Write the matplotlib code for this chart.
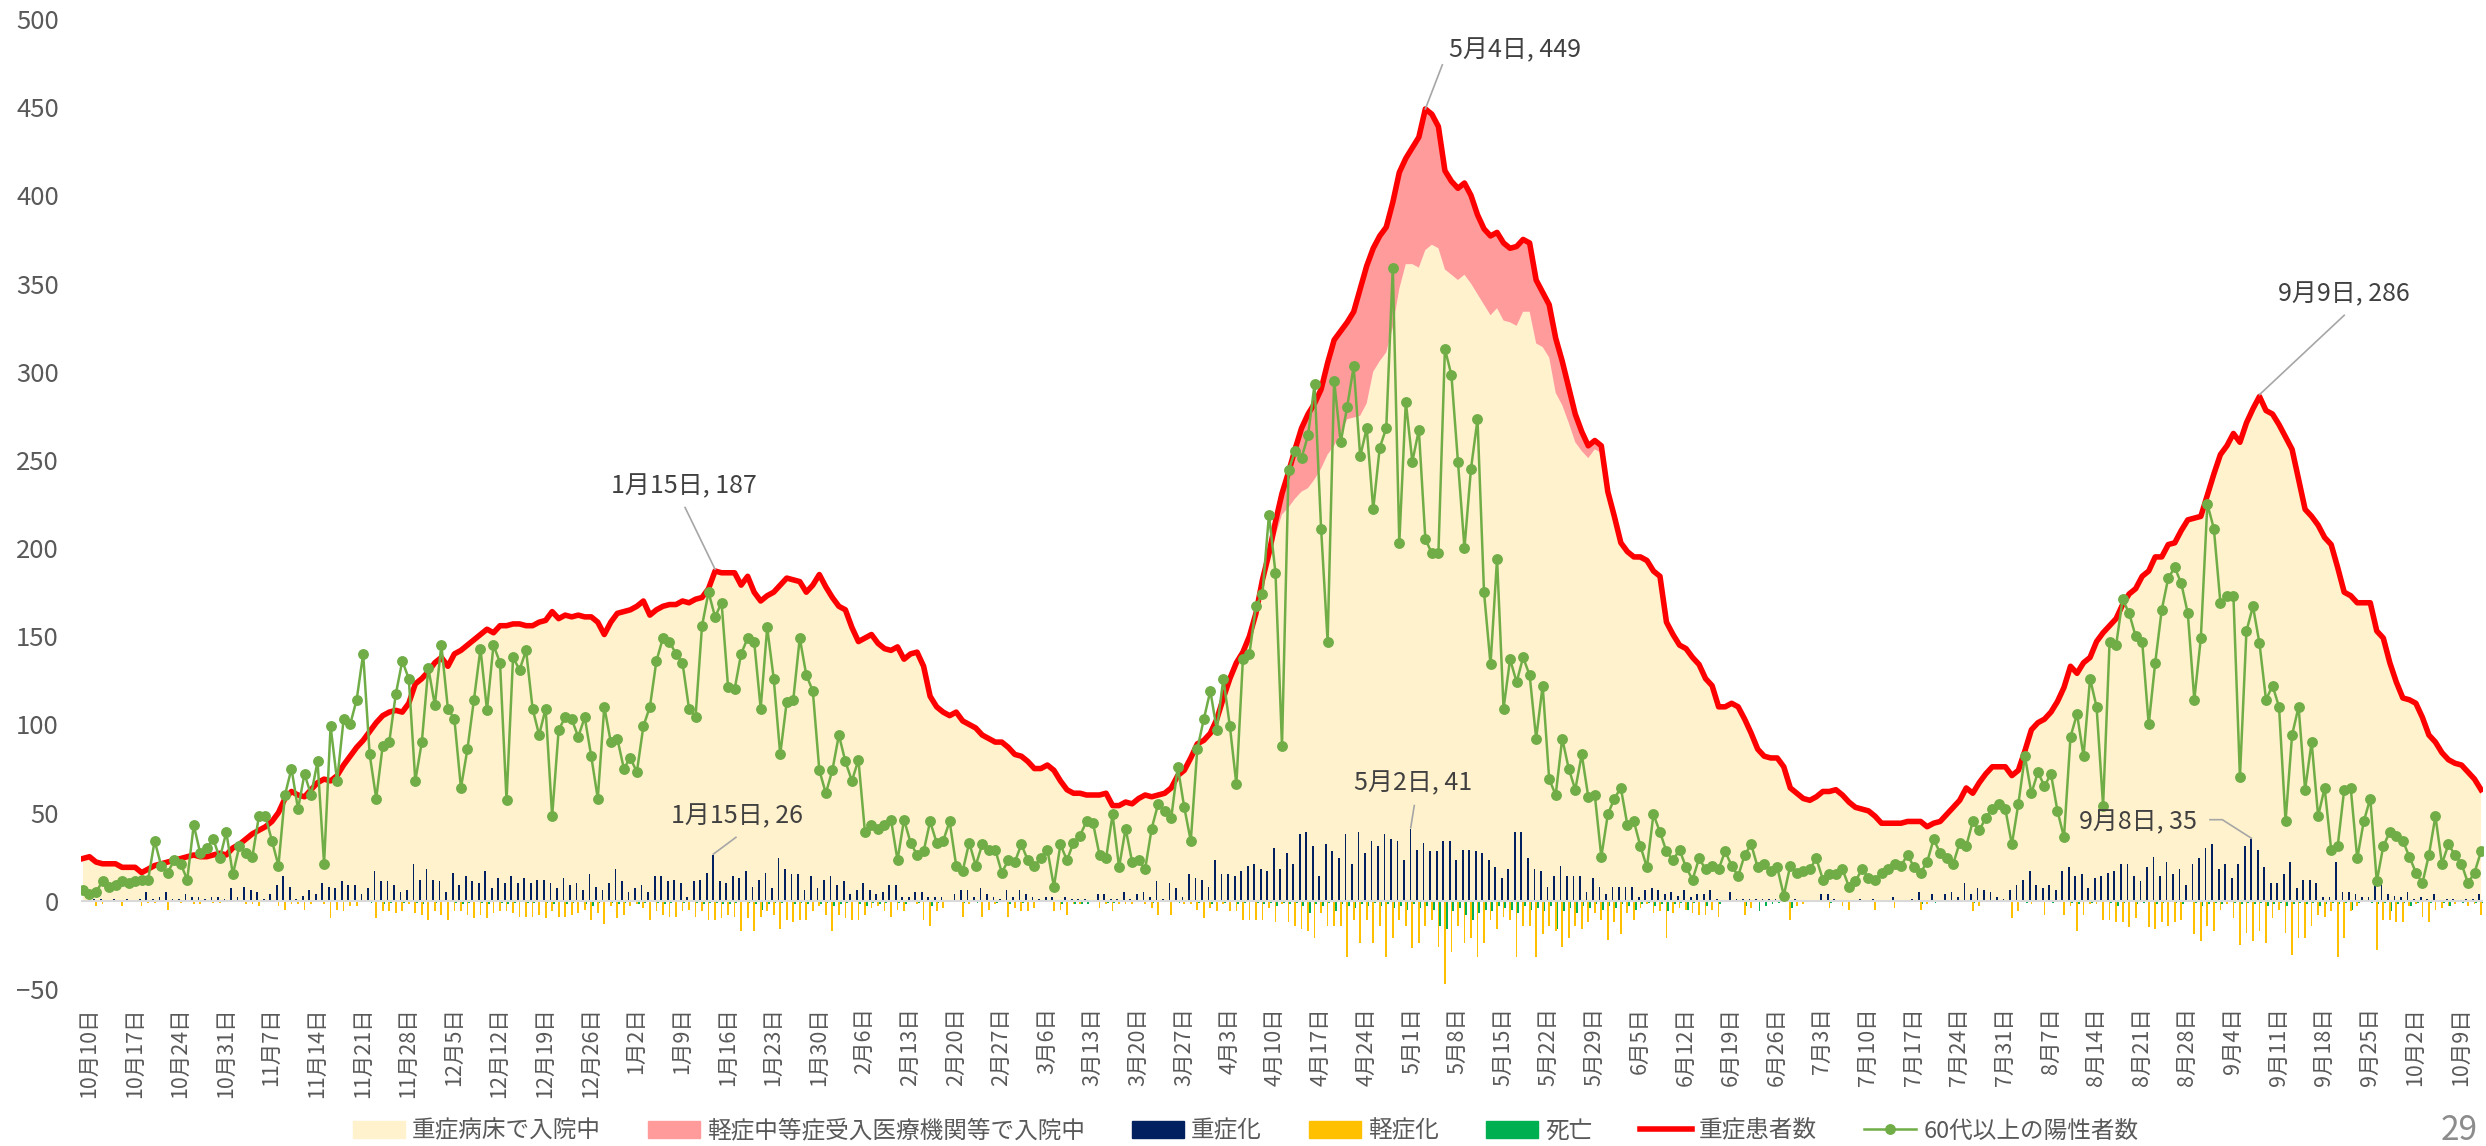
import numpy as np
import matplotlib
matplotlib.use("Agg")
import matplotlib.pyplot as plt
from matplotlib.patches import Patch
from matplotlib.lines import Line2D
from matplotlib.transforms import ScaledTranslation

plt.rcParams["font.family"] = ["Noto Sans CJK JP", "DejaVu Sans"]

# daily values, 10/10 -> 10/13 of the following year
severe_total = [
    24, 25, 22, 21, 21, 21, 19, 19, 19, 16, 18, 20, 21, 22, 23, 24, 25, 26, 25, 25,
    26, 27, 26, 30, 32, 35, 38, 40, 42, 45, 50, 58, 62, 60, 59, 63, 67, 69, 68, 71,
    77, 82, 87, 91, 96, 101, 105, 107, 108, 107, 112, 123, 126, 130, 135, 138, 133, 140, 142, 145,
    148, 151,
    154, 152, 156, 156, 157, 157, 156, 156, 158, 159, 164, 160, 162, 161, 162, 161, 161, 158, 151, 158,
    163, 164, 165, 167, 170, 162, 165, 167, 168, 168, 170, 169, 171, 172, 177, 187, 186, 186, 186, 179,
    184, 175, 170, 173, 175, 179, 183, 182, 181, 175, 179, 185, 178, 172, 167, 165, 155,
    147, 149, 151, 146, 143, 142, 144, 137, 140, 141, 133, 116, 110, 107, 105, 107, 102, 100, 98, 94,
    92, 90, 90, 87, 83, 82, 79, 75, 75, 77, 74, 68, 63, 61, 61, 60, 60, 60, 61, 54,
    54, 56, 55, 58, 60, 59, 60, 61, 64, 71, 74, 81, 89, 91, 95, 103, 115, 126, 135, 141,
    150, 163,
    182, 197, 215, 231, 243, 256, 268, 276, 282, 290, 305, 318, 323, 328, 334, 347, 360, 370, 377, 382,
    396, 413, 421, 427, 433, 449, 446, 439, 414, 408, 404, 407, 400, 389, 381, 377, 379, 373, 370, 371,
    375, 373, 352, 345, 338, 319, 306, 291, 276, 266, 258, 261, 258, 232, 218, 203, 198, 195, 195, 193,
    187,
    184, 158, 151, 145, 143, 138, 134, 126, 122, 110, 110, 112, 110, 103, 95, 86, 82, 81, 81, 76,
    64, 61, 58, 57, 59, 62, 62, 63, 60, 56, 53, 52, 51, 48, 44, 44, 44, 44, 45, 45,
    45, 42, 44, 45, 49, 53, 57, 64, 61, 67, 72, 76, 76, 76, 71, 74, 85, 97, 101, 103,
    107,
    113, 121, 133, 129, 135, 138, 147, 152, 156, 160, 168, 174, 177, 184, 187, 195, 195, 202, 203, 210,
    216, 217, 218, 230, 242, 253, 258, 265, 260, 271, 279, 286, 278, 276, 270, 263, 256, 239, 222, 218,
    213, 206, 202, 189, 175, 173, 169, 169, 169, 153, 149, 135, 124, 115, 114, 112, 104, 94, 90, 84,
    80, 78, 77, 73, 69, 63,
]

# 軽症中等症受入医療機関等で入院中 (only from 4/9 to 6/8)
mild_hosp_start = 181
mild_hosp = [
    2, 5, 8, 12, 20, 28, 36, 42, 43, 45, 52, 60, 58, 55, 60, 72, 78, 70, 71, 71,
    71, 66, 60, 66, 74, 80, 74, 69, 56, 53, 52, 52, 50, 45, 43, 45, 43, 44, 42, 45,
    41, 39, 36, 31, 30, 31, 25, 20, 16, 11, 7, 5, 4, 3, 2, 1, 0, 1, 2, 2,
    1,
]

over60 = [
    6, 4, 5, 11, 8, 9, 11, 10, 11, 12, 12, 34, 20, 16, 23, 21, 12, 43, 27, 30,
    35, 24, 39, 15, 31, 27, 25, 48, 48, 34, 20, 60, 75, 52, 72, 60, 79, 21, 99, 68,
    103, 100, 114, 140, 83, 58, 88, 90, 117, 136, 126, 68, 90, 132, 111, 145, 109, 103, 64, 86,
    114, 143,
    108, 145, 135, 57, 138, 131, 142, 109, 94, 109, 48, 97, 104, 103, 93, 104, 82, 58, 110, 90,
    92, 75, 81, 73, 99, 110, 136, 149, 147, 140, 135, 109, 104, 156, 175, 161, 169, 121, 120, 140,
    149, 147, 109, 155, 126, 83, 113, 114, 149, 128, 119, 74, 61, 74, 94, 79, 68, 80, 39, 43,
    41,
    43, 46, 23, 46, 33, 26, 28, 45, 33, 34, 45, 20, 17, 33, 20, 32, 29, 29, 16, 23,
    22, 32, 23, 20, 24, 29, 8, 32, 23, 33, 37, 45, 44, 26, 24, 49, 19, 41, 22, 23,
    18, 41, 55, 51, 47, 76, 53, 34, 86, 103, 119, 97, 126, 99, 66, 137, 140, 167, 174, 219,
    186, 88,
    244, 255, 251, 264, 293, 211, 147, 295, 260, 280, 303, 252, 268, 222, 257, 268, 359, 203, 283, 249,
    267, 205, 197, 197, 313, 298, 249, 200, 245, 273, 175, 134, 194, 109, 137, 124, 138, 128, 92, 122,
    69, 60, 92, 75, 63, 83, 59, 60, 25, 49, 58, 64, 43, 45, 31, 19, 49, 39, 28, 23,
    29,
    19, 12, 24, 18, 20, 18, 28, 20, 14, 26, 32, 19, 21, 17, 19, 3, 20, 16, 17, 18,
    24, 12, 15, 15, 18, 8, 11, 18, 13, 12, 16, 18, 21, 20, 26, 19, 16, 22, 35, 27,
    24, 21, 33, 31, 45, 40, 47, 52, 55, 52, 32, 55, 82, 61, 73, 65, 72, 51, 36, 93,
    106, 82,
    126, 110, 54, 147, 145, 171, 163, 150, 147, 100, 135, 165, 183, 189, 180, 163, 114, 149, 225, 211,
    169, 173, 173, 70, 153, 167, 146, 114, 122, 110, 45, 94, 110, 63, 90, 48, 64, 29, 31, 63,
    64, 24, 45, 58, 11, 31, 39, 37, 34, 25, 16, 10, 26, 48, 21, 32, 26, 21, 10, 16,
    28,
]

# 重症化
to_severe = [
    0, 0, 1, 1, 0, 1, 0, 1, 0, 1, 5, 1, 2, 5, 1, 1, 4, 2, 2, 1,
    2, 2, 1, 7, 2, 8, 6, 5, 1, 4, 9, 14, 8, 1, 3, 6, 4, 10, 8, 7,
    11, 9, 9, 4, 7, 17, 11, 11, 9, 5, 6, 21, 12, 18, 12, 11, 5, 16, 9, 14,
    11,
    10, 17, 7, 13, 10, 14, 10, 13, 10, 12, 12, 10, 7, 13, 9, 10, 6, 15, 8, 6,
    10, 18, 11, 5, 7, 9, 5, 14, 14, 11, 12, 10, 2, 11, 12, 16, 26, 11, 10, 14,
    13, 17, 8, 12, 16, 7, 24, 18, 15, 15, 6, 14, 7, 12, 14, 9, 11, 4, 6, 10,
    6, 4,
    5, 9, 9, 2, 2, 5, 5, 2, 2, 2, 0, 4, 6, 6, 2, 7, 4, 2, 1, 6,
    2, 6, 4, 2, 1, 2, 2, 0, 2, 1, 1, 1, 0, 4, 4, 1, 1, 5, 1, 4,
    5, 2, 11, 1, 10, 7, 2, 15, 13, 12, 8, 23, 15, 15, 14, 17, 20, 21,
    18, 17, 30, 18, 27, 21, 38, 39, 31, 14, 32, 28, 24, 38, 21, 39, 27, 34, 31, 38,
    35, 34, 23, 41, 29, 33, 28, 28, 34, 34, 23, 29, 29, 28, 27, 23, 19, 13, 18, 39,
    39, 24, 18, 17, 8, 14, 20, 14, 14, 14, 5, 13, 8, 4, 8, 8, 8, 8, 2, 6,
    7, 6, 4, 5, 3,
    6, 2, 4, 4, 6, 1, 0, 5, 1, 1, 1, 1, 1, 1, 1, 1, 0, 1, 0, 0,
    0, 4, 4, 1, 0, 0, 0, 1, 0, 1, 0, 0, 2, 0, 0, 1, 5, 0, 4, 0,
    4, 5, 2, 10, 4, 7, 6, 5, 2, 1, 6, 9, 12, 17, 9, 7, 9, 6,
    17, 19, 14, 15, 7, 13, 14, 16, 17, 21, 21, 14, 11, 19, 25, 14, 22, 15, 18, 9,
    21, 24, 30, 32, 18, 21, 13, 21, 31, 35, 29, 19, 10, 10, 15, 22, 7, 12, 12, 10,
    2, 2, 22, 5, 5, 4, 2, 2, 10, 10, 4, 3, 2, 5, 1, 2, 1, 4, 0, 1,
    1, 0, 1, 1, 4,
]

# 軽症化 (drawn downwards)
to_mild = [
    0, 0, 3, 2, 0, 0, 3, 0, 0, 3, 1, 1, 0, 5, 0, 1, 0, 2, 2, 0,
    1, 1, 0, 0, 0, 2, 2, 3, 0, 0, 3, 5, 2, 2, 5, 2, 0, 2, 10, 5,
    6, 3, 3, 0, 0, 10, 6, 6, 7, 6, 2, 7, 8, 11, 6, 8, 11, 6, 6, 8,
    10,
    8, 10, 7, 6, 6, 7, 9, 9, 9, 8, 10, 6, 9, 9, 8, 7, 5, 11, 7, 13,
    3, 10, 8, 3, 2, 4, 11, 6, 8, 9, 9, 6, 5, 9, 6, 11, 11, 10, 8, 9,
    17, 10, 17, 9, 6, 8, 16, 11, 12, 11, 11, 6, 3, 8, 17, 8, 10, 11, 11, 8,
    4, 3,
    6, 9, 5, 6, 0, 2, 11, 14, 6, 4, 0, 0, 9, 2, 0, 9, 5, 2, 0, 9,
    4, 6, 6, 4, 0, 0, 6, 5, 8, 2, 2, 0, 0, 4, 2, 6, 2, 2, 2, 0,
    2, 4, 8, 0, 8, 0, 2, 2, 5, 10, 4, 6, 2, 6, 6, 11, 11, 11,
    11, 4, 12, 2, 12, 14, 16, 17, 21, 7, 14, 14, 14, 32, 11, 24, 11, 24, 14, 32,
    21, 11, 14, 27, 24, 14, 11, 26, 47, 29, 14, 24, 21, 32, 24, 11, 16, 9, 11, 32,
    14, 14, 32, 19, 14, 17, 26, 21, 14, 16, 12, 7, 11, 22, 12, 19, 7, 11, 4, 2,
    7, 6, 21, 7, 4,
    5, 7, 8, 8, 5, 9, 0, 0, 0, 8, 4, 0, 0, 0, 0, 0, 11, 3, 2, 0,
    0, 0, 4, 0, 3, 5, 0, 0, 0, 5, 0, 0, 4, 0, 0, 0, 5, 2, 0, 0,
    0, 0, 0, 0, 6, 3, 0, 0, 0, 0, 10, 6, 0, 2, 0, 8, 0, 0,
    8, 3, 17, 8, 2, 2, 11, 11, 12, 12, 15, 10, 0, 15, 16, 12, 14, 12, 11, 0,
    19, 23, 14, 17, 5, 2, 10, 25, 18, 23, 17, 24, 10, 5, 18, 31, 21, 21, 14, 8,
    9, 6, 32, 21, 6, 3, 0, 0, 28, 11, 11, 12, 12, 3, 2, 9, 12, 5, 4, 3,
    2, 0, 3, 2, 8,
]

# 死亡 (drawn downwards)
deaths = [
    0, 0, 0, 0, 0, 0, 0, 0, 0, 0, 0, 0, 0, 0, 0, 0, 0, 0, 0, 0,
    0, 0, 0, 0, 0, 0, 0, 0, 0, 0, 0, 0, 0, 0, 0, 0, 0, 0, 0, 0,
    0, 0, 0, 0, 1, 0, 2, 1, 0, 1, 0, 1, 2, 0, 1, 0, 0, 1, 2, 1,
    0,
    1, 2, 0, 1, 2, 1, 0, 1, 1, 0, 1, 2, 0, 2, 1, 0, 2, 3, 1, 0,
    1, 2, 1, 0, 2, 1, 0, 1, 2, 1, 0, 1, 0, 1, 2, 1, 1, 2, 2, 1,
    0, 1, 2, 5, 2, 1, 1, 0, 2, 1, 2, 0, 2, 1, 3, 2, 1, 0, 2, 3,
    1, 2,
    1, 0, 1, 2, 0, 1, 0, 3, 1, 0, 0, 0, 1, 0, 1, 0, 0, 1, 0, 2,
    0, 1, 0, 0, 0, 0, 0, 2, 0, 2, 2, 2, 0, 0, 1, 1, 0, 0, 0, 0,
    0, 1, 0, 0, 0, 1, 0, 0, 1, 0, 2, 0, 1, 0, 2, 1, 0, 1,
    2, 1, 3, 1,
    2, 1, 3, 7, 2, 3, 1, 6, 2, 3, 4, 2, 3, 1, 3, 2, 4, 3, 5, 2,
    4, 3, 5, 14, 16, 6, 4, 8, 11, 7, 5, 6, 3, 4, 5, 7, 3, 5, 4, 6,
    3, 16, 6, 4, 7, 3, 4, 2, 5, 3, 4, 2, 3, 5, 2, 1, 3, 2, 6, 2,
    1,
    5, 1, 0, 3, 0, 2, 0, 0, 0, 3, 0, 6, 3, 2, 1, 0, 4, 0, 0, 0,
    0, 0, 1, 0, 0, 0, 0, 0, 0, 0, 0, 0, 0, 0, 0, 0, 2, 0, 1, 0,
    0, 0, 0, 0, 1, 0, 0, 0, 0, 0, 0, 0, 1, 0, 0, 0, 1, 0,
    0, 1, 2, 0, 1, 0, 0, 1, 3, 1, 0, 2, 1, 0, 2, 1, 0, 1, 2, 0,
    1, 3, 2, 1, 2, 0, 1, 2, 1, 2, 1, 3, 2, 1, 3, 2, 1, 2, 1, 3,
    2, 1, 2, 1, 5, 1, 0, 1, 2, 1, 6, 2, 1, 3, 1, 0, 1, 0, 1, 3,
    0, 1, 0, 1, 1,
]

tick_labels = [
    "10月10日", "10月17日", "10月24日", "10月31日", "11月7日", "11月14日", "11月21日",
    "11月28日", "12月5日", "12月12日", "12月19日", "12月26日", "1月2日", "1月9日",
    "1月16日", "1月23日", "1月30日", "2月6日", "2月13日", "2月20日", "2月27日",
    "3月6日", "3月13日", "3月20日", "3月27日", "4月3日", "4月10日", "4月17日",
    "4月24日", "5月1日", "5月8日", "5月15日", "5月22日", "5月29日", "6月5日",
    "6月12日", "6月19日", "6月26日", "7月3日", "7月10日", "7月17日", "7月24日",
    "7月31日", "8月7日", "8月14日", "8月21日", "8月28日", "9月4日", "9月11日",
    "9月18日", "9月25日", "10月2日", "10月9日",
]

# (text, text x, text y, horizontal align, leader path)
callouts = [
    ("5月4日, 449", 209.6, 482, "left", [(206, 449), (208.6, 474)]),
    ("1月15日, 187", 92.2, 235, "center", [(92.4, 223), (97, 188)]),
    ("9月9日, 286", 347.0, 344, "center", [(347.0, 332), (334, 287)]),
    ("1月15日, 26", 100.4, 47.7, "center", [(100.2, 36), (96.75, 26.5)]),
    ("5月2日, 41", 204.1, 66.4, "center", [(204.3, 54), (203.75, 41.5)]),
    ("9月8日, 35", 315.4, 44.3, "center", [(326.4, 46), (328.3, 46), (332.75, 35.5)]),
]

days = np.arange(len(severe_total))
pink = np.zeros(len(days))
pink[mild_hosp_start:mild_hosp_start + len(mild_hosp)] = mild_hosp
cream = np.array(severe_total) - pink

W, H = 2486, 1146
fig = plt.figure(figsize=(W / 100, H / 100), dpi=100)
ax = fig.add_axes([81 / W, 1 - 989 / H, (2483 - 81) / W, (989 - 19) / H])

ax.stackplot(days, cream, pink, colors=["#FFF2CC", "#FF9B9B"], linewidth=0, zorder=1)
bw = 0.27
ax.bar(days - bw, to_severe, width=bw, color="#002060", linewidth=0, zorder=2)
ax.bar(days, -np.array(to_mild), width=bw, color="#FFC000", linewidth=0, zorder=2)
ax.bar(days + bw, -np.array(deaths), width=bw, color="#00B050", linewidth=0, zorder=2)
ax.axhline(0, color="#D9D9D9", lw=1.5, zorder=2.5)
ax.plot(days, severe_total, color="#FF0000", lw=4, solid_joinstyle="round", zorder=3)
ax.plot(days, over60, color="#70AD47", lw=1.8, marker="o", ms=6.8, zorder=4)

for txt, tx, ty, ha, path in callouts:
    xs, ys = zip(*path)
    ax.plot(xs, ys, color="#A6A6A6", lw=1.2, zorder=5)
    ax.text(tx, ty, txt, ha=ha, va="center", fontsize=18, color="#404040", zorder=6)

ax.set_xlim(-0.3, 368.3)
ax.set_ylim(-50, 500)
ax.set_yticks(np.arange(-50, 501, 50))
ax.set_xticks(days[::7])
ax.set_xticklabels(tick_labels, rotation=90)
ax.tick_params(axis="both", length=0, labelsize=15.5, colors="#595959")
ax.tick_params(axis="y", pad=16, labelsize=18.5)
ax.tick_params(axis="x", pad=13)
shift = ScaledTranslation(6 / 100, 0, fig.dpi_scale_trans)
for lab in ax.get_xticklabels():
    lab.set_transform(lab.get_transform() + shift)
for s in ax.spines.values():
    s.set_visible(False)

handles = [
    Patch(color="#FFF2CC", label="重症病床で入院中"),
    Patch(color="#FF9B9B", label="軽症中等症受入医療機関等で入院中"),
    Patch(color="#002060", label="重症化"),
    Patch(color="#FFC000", label="軽症化"),
    Patch(color="#00B050", label="死亡"),
    Line2D([], [], color="#FF0000", lw=4, label="重症患者数"),
    Line2D([], [], color="#70AD47", lw=1.8, marker="o", ms=6.8, label="60代以上の陽性者数"),
]
leg = fig.legend(handles=handles, loc="center", bbox_to_anchor=(0.501, 1 - 1131 / H), ncol=7,
                 frameon=False, fontsize=17, handlelength=2.2, handletextpad=0.3,
                 columnspacing=2.0)
for t in leg.get_texts():
    t.set_color("#595959")

fig.text(2478 / W, 1 - 1130 / H, "29", ha="right", va="center", fontsize=24, color="#8C8C8C")

fig.savefig("out.png", dpi=100)
